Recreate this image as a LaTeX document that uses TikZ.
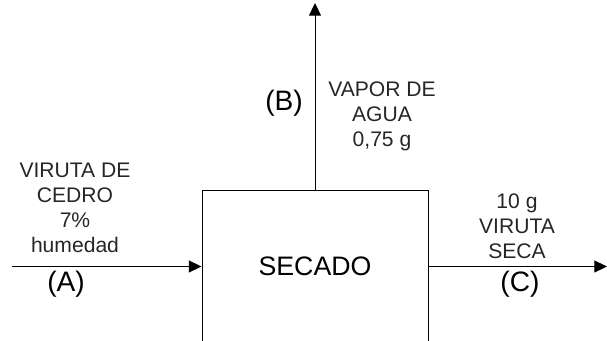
\documentclass[tikz,border=0pt]{standalone}
\usepackage{fontspec}
\setmainfont{Liberation Sans}
\usetikzlibrary{arrows.meta}

\begin{document}
\begin{tikzpicture}[x=0.025cm,y=-0.025cm,
  flow/.style={-{Triangle[length=9pt,width=8.5pt]},line width=0.7pt},
  note/.style={align=center,inner sep=0pt,text=black!85,font=\fontsize{15}{17.8}\selectfont},
  tag/.style={inner sep=0pt,font=\fontsize{20}{24}\selectfont}]
\useasboundingbox (0,0) rectangle (607,341);
\clip (0,0) rectangle (607,341);

\node[draw,rectangle,line width=0.7pt,minimum width=226*0.025cm,minimum height=152*0.025cm,
  font=\fontsize{19}{23}\selectfont] (secado) at (315,266.5) {SECADO};

\coordinate (inA) at (12,266.5);
\coordinate (outB) at (315,3);
\coordinate (outC) at (607,266.5);

\draw[flow] (inA) -- (secado.west);
\draw[flow] (secado.north) -- (outB);
\draw[flow] (secado.east) -- (outC);

\node[note] (virutaA) at (75,207.5) {VIRUTA DE\\CEDRO\\7\%\\humedad};
\node[tag] (labA) at (66,284) {(A)};
\node[tag] (labB) at (284,103) {(B)};
\node[note] (vapor) at (382,116.5) {VAPOR DE\\AGUA\\0,75 g};
\node[note] (virutaC) at (517,226) {10 g\\VIRUTA\\SECA};
\node[tag] (labC) at (520,284) {(C)};
\end{tikzpicture}
\end{document}
